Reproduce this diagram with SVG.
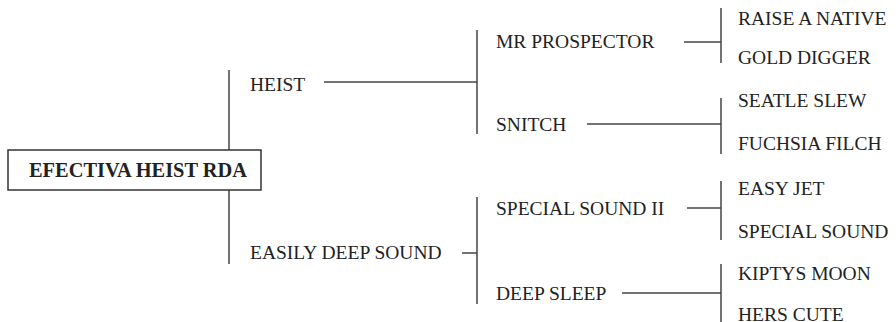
<svg xmlns="http://www.w3.org/2000/svg" width="896" height="322" viewBox="0 0 896 322">
<style>
text{font-family:"Liberation Serif","Times New Roman",serif;font-size:19.5px;fill:#222}
.root{font-weight:bold;font-size:20.4px}
.c line{stroke:#444;stroke-width:1.5}
.box{fill:#fff;stroke:#333;stroke-width:1.5}
</style>
<rect width="896" height="322" fill="#fff"/>
<g class="c" id="connectors">
<line x1="229" y1="70" x2="229" y2="150"/>
<line x1="229" y1="190" x2="229" y2="264"/>
<line x1="324" y1="82" x2="477" y2="82"/>
<line x1="477" y1="30" x2="477" y2="134"/>
<line x1="462" y1="253" x2="477" y2="253"/>
<line x1="477" y1="197" x2="477" y2="304"/>
<line x1="684" y1="42" x2="721" y2="42"/>
<line x1="721" y1="8" x2="721" y2="63"/>
<line x1="587" y1="124" x2="721" y2="124"/>
<line x1="721" y1="98" x2="721" y2="154"/>
<line x1="687" y1="208" x2="721" y2="208"/>
<line x1="721" y1="181" x2="721" y2="240"/>
<line x1="622" y1="293" x2="721" y2="293"/>
<line x1="721" y1="264" x2="721" y2="322"/>
</g>
<g id="root"><rect class="box" x="8" y="150" width="253" height="40"/><text class="root" x="29" y="177">EFECTIVA HEIST RDA</text></g>
<g id="heist"><text x="250" y="91">HEIST</text></g>
<g id="easily"><text x="250" y="259">EASILY DEEP SOUND</text></g>
<g id="mrprospector"><text x="496" y="48">MR PROSPECTOR</text></g>
<g id="snitch"><text x="496" y="131">SNITCH</text></g>
<g id="specialsound2"><text x="496" y="215">SPECIAL SOUND II</text></g>
<g id="deepsleep"><text x="496" y="300">DEEP SLEEP</text></g>
<g id="raise"><text x="738" y="25">RAISE A NATIVE</text></g>
<g id="gold"><text x="738" y="64">GOLD DIGGER</text></g>
<g id="seatle"><text x="738" y="107">SEATLE SLEW</text></g>
<g id="fuchsia"><text x="738" y="150">FUCHSIA FILCH</text></g>
<g id="easyjet"><text x="738" y="195">EASY JET</text></g>
<g id="specialsound"><text x="738" y="238">SPECIAL SOUND</text></g>
<g id="kiptys"><text x="738" y="280">KIPTYS MOON</text></g>
<g id="herscute"><text x="738" y="321">HERS CUTE</text></g>
</svg>
